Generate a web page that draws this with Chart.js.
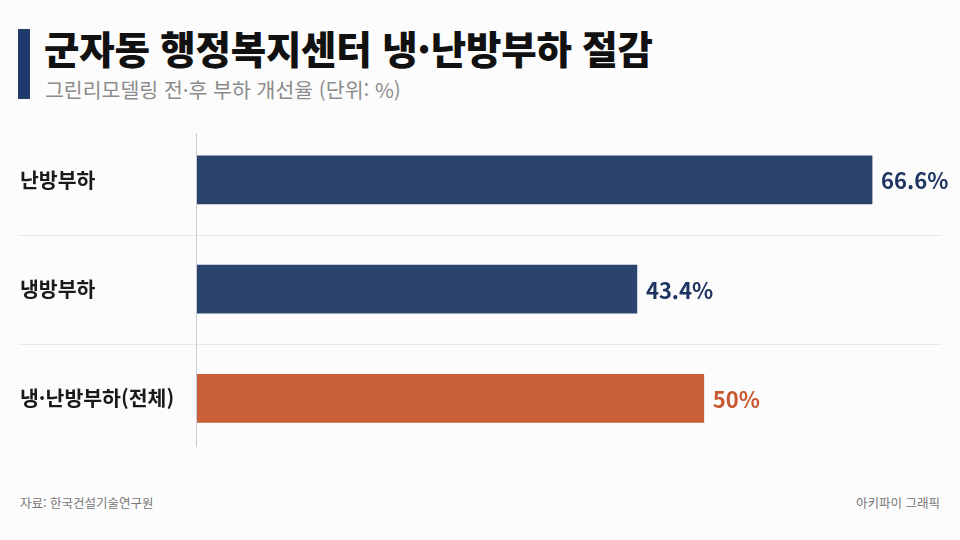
<!DOCTYPE html>
<html lang="ko">
<head>
<meta charset="utf-8">
<script src="https://cdn.jsdelivr.net/npm/chart.js@4"></script>
<style>
  html, body { margin: 0; padding: 0; }
  body {
    width: 960px; height: 540px; position: relative; overflow: hidden;
    background: #fcfcfc;
    font-family: "Noto Sans CJK KR", "Noto Sans", sans-serif;
  }
  .accent { position: absolute; left: 18px; top: 29px; width: 12px; height: 70px; background: #22396b; }
  .title {
    position: absolute; left: 44px; top: 21px; margin: 0;
    font-size: 38.5px; font-weight: 900; color: #111; letter-spacing: -0.2px; line-height: 52px;
  }
  .subtitle {
    position: absolute; left: 45px; top: 75px;
    font-size: 20.5px; color: #8c8c8c; line-height: 28px;
  }
  #wrap { position: absolute; left: 0; top: 110px; width: 960px; height: 360px; }
  .foot { position: absolute; top: 493px; font-size: 12.5px; color: #777; }
  .foot.left { left: 20px; }
  .foot.right { right: 20px; }
</style>
</head>
<body>
<div class="accent"></div>
<h1 class="title">군자동 행정복지센터 냉·난방부하 절감</h1>
<div class="subtitle">그린리모델링 전·후 부하 개선율 (단위: %)</div>
<div id="wrap"><canvas id="chart"></canvas></div>
<div class="foot left">자료: 한국건설기술연구원</div>
<div class="foot right">아키파이 그래픽</div>

<script>
  // 데이터
  const categories = ["난방부하", "냉방부하", "냉·난방부하(전체)"];
  const values = [66.6, 43.4, 50];
  const valueLabels = ["66.6%", "43.4%", "50%"];

  const barColors = ["#2b446e", "#2b446e", "#c9603a"];
  const labelColors = ["#1f3561", "#1f3561", "#c8582f"];

  // 구분선 + 축선
  const linesPlugin = {
    id: "lines",
    beforeDatasetsDraw(chart) {
      const ctx = chart.ctx;
      const area = chart.chartArea;
      const y = chart.scales.y;
      ctx.save();
      ctx.strokeStyle = "#e6e8ec";
      ctx.lineWidth = 1;
      for (let i = 0; i < categories.length - 1; i++) {
        const py = Math.round((y.getPixelForValue(i) + y.getPixelForValue(i + 1)) / 2) + 0.5;
        ctx.beginPath();
        ctx.moveTo(18, py);
        ctx.lineTo(area.right, py);
        ctx.stroke();
      }
      ctx.strokeStyle = "#c9ccd2";
      ctx.beginPath();
      ctx.moveTo(area.left - 0.5, area.top + 8);
      ctx.lineTo(area.left - 0.5, area.bottom - 6);
      ctx.stroke();
      ctx.restore();
    }
  };

  // 값 라벨
  const valuePlugin = {
    id: "valueLabels",
    afterDatasetsDraw(chart) {
      const ctx = chart.ctx;
      const meta = chart.getDatasetMeta(0);
      ctx.save();
      ctx.font = "600 22px 'Noto Sans CJK KR', 'Noto Sans', sans-serif";
      ctx.textAlign = "left";
      ctx.textBaseline = "middle";
      meta.data.forEach((bar, i) => {
        ctx.fillStyle = labelColors[i];
        ctx.fillText(valueLabels[i], bar.x + 9, bar.y + 1);
      });
      ctx.restore();
    }
  };

  new Chart(document.getElementById("chart"), {
    type: "bar",
    data: {
      labels: categories,
      datasets: [{
        data: values,
        backgroundColor: barColors,
        barThickness: 48,
        borderWidth: 0
      }]
    },
    options: {
      indexAxis: "y",
      responsive: true,
      maintainAspectRatio: false,
      animation: false,
      layout: { padding: { left: 20, right: 18, top: 13, bottom: 17 } },
      plugins: { legend: { display: false }, tooltip: { enabled: false } },
      scales: {
        x: { display: false, min: 0, max: 73.5 },
        y: {
          grid: { display: false },
          border: { display: false },
          afterFit(scale) { scale.width = 177; },
          ticks: {
            crossAlign: "far",
            color: "#1a1a1a",
            font: { family: "'Noto Sans CJK KR', 'Noto Sans', sans-serif", size: 20.5, weight: "bold" }
          }
        }
      }
    },
    plugins: [linesPlugin, valuePlugin]
  });
</script>
</body>
</html>
